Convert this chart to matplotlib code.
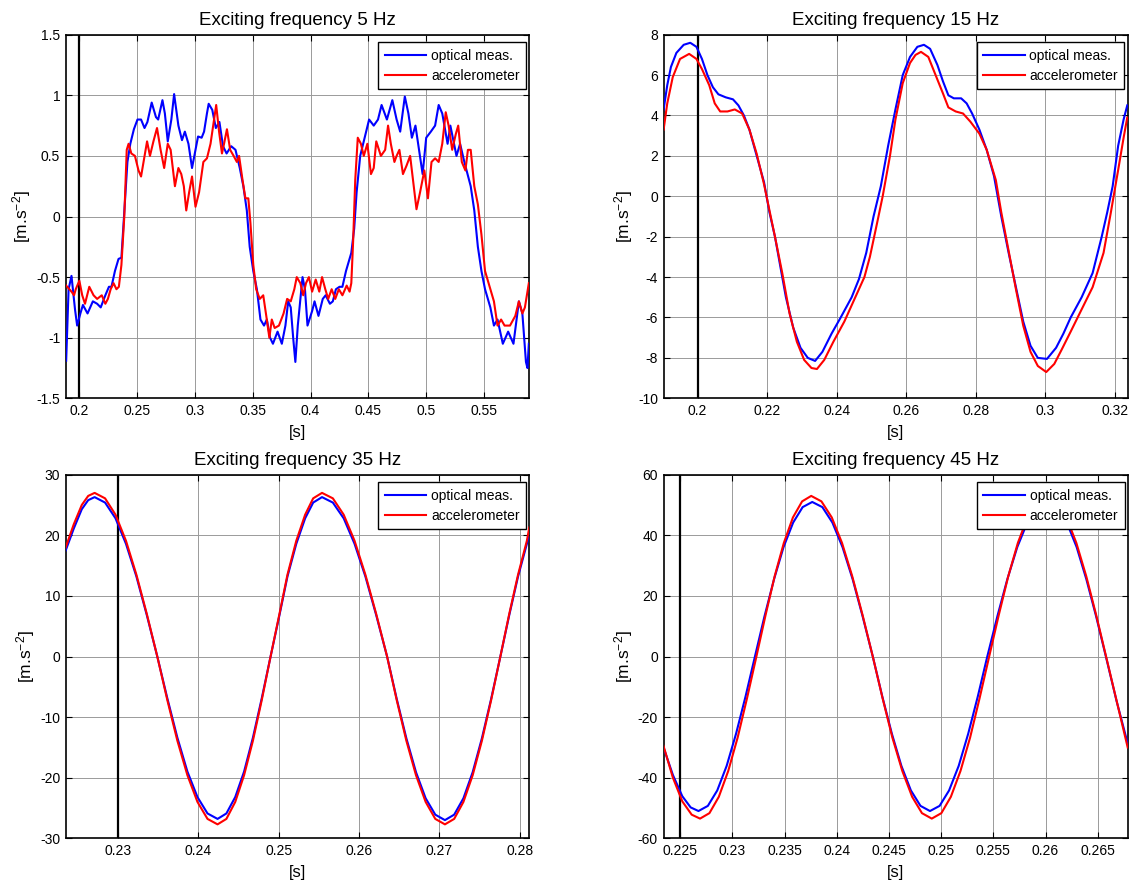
import numpy as np
import matplotlib
matplotlib.use("Agg")
import matplotlib.pyplot as plt
from matplotlib.ticker import FuncFormatter

plt.rcParams['font.family'] = ['Liberation Sans', 'DejaVu Sans']
plt.rcParams['mathtext.fontset'] = 'custom'
plt.rcParams['mathtext.rm'] = 'Liberation Sans'
plt.rcParams['mathtext.it'] = 'Liberation Sans:italic'

# ---------------- 5 Hz ----------------
t5_opt = [0.1886, 0.1907, 0.1932, 0.1963, 0.1981, 0.2009, 0.2031, 0.2071, 0.2117, 0.2154,
          0.2185, 0.2225, 0.2256, 0.2278, 0.2308, 0.2339, 0.2364, 0.2386, 0.2416, 0.2441,
          0.2472, 0.2503, 0.2534, 0.2564, 0.2589, 0.2626, 0.2663, 0.2682, 0.2719, 0.2740,
          0.2765, 0.2796, 0.2820, 0.2857, 0.2888, 0.2913, 0.2944, 0.2975, 0.3005, 0.3027,
          0.3058, 0.3079, 0.3104, 0.3119, 0.3150, 0.3181, 0.3212, 0.3243, 0.3274, 0.3314,
          0.3351, 0.3388, 0.3419, 0.3449, 0.3474, 0.3505, 0.3536, 0.3567, 0.3598, 0.3622,
          0.3650, 0.3675, 0.3715, 0.3752, 0.3783, 0.3807, 0.3829, 0.3850, 0.3869, 0.3890,
          0.3931, 0.3952, 0.3974, 0.4014, 0.4035, 0.4069, 0.4106, 0.4131, 0.4168, 0.4193,
          0.4220, 0.4251, 0.4276, 0.4307, 0.4353, 0.4378, 0.4399, 0.4430, 0.4461, 0.4507,
          0.4547, 0.4584, 0.4615, 0.4661, 0.4708, 0.4745, 0.4776, 0.4816, 0.4847, 0.4877,
          0.4908, 0.4939, 0.4970, 0.5001, 0.5041, 0.5078, 0.5109, 0.5140, 0.5186, 0.5210,
          0.5263, 0.5294, 0.5331, 0.5386, 0.5417, 0.5448, 0.5479, 0.5510, 0.5556, 0.5587,
          0.5618, 0.5664, 0.5710, 0.5756, 0.5803, 0.5833, 0.5864, 0.5877, 0.5889]
opt5 = [-1.19, -0.60, -0.49, -0.77, -0.90, -0.80, -0.73, -0.80, -0.70, -0.72,
        -0.75, -0.65, -0.58, -0.58, -0.45, -0.35, -0.34, 0.00, 0.45, 0.60,
        0.72, 0.80, 0.80, 0.73, 0.78, 0.94, 0.82, 0.80, 0.96, 0.85,
        0.62, 0.80, 1.01, 0.75, 0.63, 0.70, 0.60, 0.40, 0.55, 0.66,
        0.65, 0.70, 0.85, 0.93, 0.88, 0.73, 0.78, 0.58, 0.52, 0.58,
        0.55, 0.40, 0.25, 0.05, -0.25, -0.45, -0.60, -0.85, -0.90, -0.85,
        -1.00, -1.05, -0.95, -1.05, -0.90, -0.70, -0.75, -1.00, -1.20, -0.90,
        -0.50, -0.60, -0.90, -0.78, -0.70, -0.82, -0.68, -0.65, -0.72, -0.70,
        -0.60, -0.58, -0.58, -0.45, -0.30, -0.10, 0.20, 0.50, 0.62, 0.80,
        0.75, 0.80, 0.92, 0.80, 0.96, 0.80, 0.70, 0.99, 0.85, 0.65,
        0.75, 0.55, 0.35, 0.65, 0.70, 0.75, 0.92, 0.85, 0.60, 0.75,
        0.50, 0.60, 0.45, 0.25, 0.05, -0.25, -0.45, -0.60, -0.75, -0.90,
        -0.85, -1.05, -0.95, -1.05, -0.70, -0.80, -1.20, -1.25, -1.05]

t5_acc = [0.1886, 0.1932, 0.1954, 0.1969, 0.2000, 0.2025, 0.2049, 0.2086, 0.2123, 0.2154,
          0.2194, 0.2225, 0.2247, 0.2271, 0.2296, 0.2321, 0.2342, 0.2364, 0.2389, 0.2410,
          0.2426, 0.2450, 0.2481, 0.2512, 0.2534, 0.2564, 0.2586, 0.2611, 0.2641, 0.2672,
          0.2703, 0.2734, 0.2765, 0.2790, 0.2827, 0.2857, 0.2882, 0.2904, 0.2925, 0.2950,
          0.2975, 0.3005, 0.3036, 0.3073, 0.3104, 0.3135, 0.3166, 0.3184, 0.3209, 0.3234,
          0.3252, 0.3277, 0.3305, 0.3335, 0.3363, 0.3382, 0.3412, 0.3437, 0.3462, 0.3480,
          0.3505, 0.3530, 0.3561, 0.3591, 0.3622, 0.3644, 0.3665, 0.3690, 0.3727, 0.3767,
          0.3798, 0.3829, 0.3860, 0.3881, 0.3912, 0.3937, 0.3961, 0.3986, 0.4014, 0.4045,
          0.4076, 0.4100, 0.4128, 0.4153, 0.4183, 0.4214, 0.4245, 0.4276, 0.4313, 0.4338,
          0.4353, 0.4369, 0.4387, 0.4409, 0.4436, 0.4461, 0.4492, 0.4523, 0.4547, 0.4569,
          0.4609, 0.4646, 0.4671, 0.4695, 0.4726, 0.4745, 0.4769, 0.4800, 0.4831, 0.4862,
          0.4887, 0.4917, 0.4948, 0.4985, 0.5016, 0.5047, 0.5078, 0.5109, 0.5140, 0.5170,
          0.5195, 0.5226, 0.5257, 0.5278, 0.5309, 0.5340, 0.5362, 0.5386, 0.5417, 0.5448,
          0.5479, 0.5510, 0.5556, 0.5587, 0.5618, 0.5649, 0.5679, 0.5726, 0.5772, 0.5803,
          0.5833, 0.5855, 0.5889]
acc5 = [-0.57, -0.62, -0.65, -0.60, -0.53, -0.65, -0.72, -0.58, -0.65, -0.68,
        -0.65, -0.72, -0.68, -0.60, -0.55, -0.60, -0.58, -0.40, 0.00, 0.55,
        0.60, 0.52, 0.50, 0.38, 0.33, 0.50, 0.62, 0.50, 0.62, 0.73,
        0.55, 0.40, 0.60, 0.55, 0.25, 0.40, 0.35, 0.25, 0.05, 0.20,
        0.33, 0.08, 0.20, 0.45, 0.48, 0.60, 0.80, 0.92, 0.70, 0.52,
        0.60, 0.72, 0.55, 0.50, 0.45, 0.50, 0.30, 0.15, 0.15, -0.05,
        -0.40, -0.60, -0.68, -0.65, -0.85, -1.00, -0.85, -0.92, -0.90, -0.80,
        -0.68, -0.70, -0.60, -0.50, -0.55, -0.65, -0.55, -0.50, -0.62, -0.52,
        -0.62, -0.50, -0.60, -0.68, -0.60, -0.68, -0.60, -0.65, -0.57, -0.62,
        -0.55, -0.20, 0.30, 0.65, 0.60, 0.50, 0.60, 0.35, 0.40, 0.62,
        0.50, 0.55, 0.75, 0.60, 0.45, 0.50, 0.55, 0.35, 0.42, 0.50,
        0.30, 0.06, 0.20, 0.38, 0.15, 0.45, 0.48, 0.45, 0.60, 0.86,
        0.75, 0.55, 0.68, 0.75, 0.45, 0.38, 0.55, 0.55, 0.25, 0.10,
        -0.15, -0.45, -0.60, -0.70, -0.90, -0.85, -0.90, -0.90, -0.82, -0.70,
        -0.80, -0.75, -0.55]

# ---------------- 15 Hz ----------------
t15_opt = [0.19023, 0.19128, 0.19233, 0.19391, 0.19601, 0.19790, 0.19968, 0.20126, 0.20284, 0.20441,
           0.20599, 0.20809, 0.21019, 0.21176, 0.21334, 0.21492, 0.21702, 0.21912, 0.22069, 0.22227,
           0.22384, 0.22542, 0.22752, 0.22962, 0.23172, 0.23382, 0.23592, 0.23855, 0.24118, 0.24433,
           0.24643, 0.24853, 0.25063, 0.25273, 0.25483, 0.25693, 0.25903, 0.26113, 0.26324, 0.26513,
           0.26691, 0.26901, 0.27059, 0.27216, 0.27374, 0.27584, 0.27742, 0.27899, 0.28109, 0.28319,
           0.28529, 0.28739, 0.28950, 0.29160, 0.29370, 0.29580, 0.29790, 0.30053, 0.30315, 0.30525,
           0.30735, 0.31050, 0.31366, 0.31628, 0.31786, 0.31943, 0.32101, 0.32258, 0.32363]
opt15 = [4.3, 5.5, 6.4, 7.1, 7.5, 7.6, 7.4, 6.8, 6.0, 5.4,
         5.05, 4.9, 4.8, 4.5, 4.0, 3.3, 2.0, 0.7, -0.8, -2.0,
         -3.5, -5.0, -6.5, -7.5, -8.0, -8.15, -7.7, -6.8, -6.0, -5.0,
         -4.1, -2.8, -1.0, 0.5, 2.5, 4.3, 6.0, 6.9, 7.4, 7.5,
         7.3, 6.5, 5.7, 5.0, 4.85, 4.85, 4.6, 4.1, 3.3, 2.3,
         1.0, -1.0, -2.8, -4.5, -6.2, -7.4, -8.0, -8.05, -7.5, -6.8,
         -6.0, -5.0, -3.8, -2.0, -0.8, 0.5, 2.5, 3.8, 4.5]

t15_acc = [0.19023, 0.19128, 0.19286, 0.19496, 0.19758, 0.19968, 0.20126, 0.20336, 0.20494, 0.20651,
           0.20861, 0.21071, 0.21282, 0.21492, 0.21702, 0.21912, 0.22069, 0.22227, 0.22437, 0.22647,
           0.22857, 0.23067, 0.23277, 0.23435, 0.23645, 0.23908, 0.24223, 0.24538, 0.24800, 0.24958,
           0.25168, 0.25326, 0.25536, 0.25693, 0.25903, 0.26113, 0.26271, 0.26429, 0.26639, 0.26849,
           0.27059, 0.27216, 0.27426, 0.27637, 0.27847, 0.28109, 0.28319, 0.28582, 0.28739, 0.28950,
           0.29160, 0.29370, 0.29580, 0.29790, 0.30032, 0.30263, 0.30473, 0.30735, 0.31050, 0.31366,
           0.31681, 0.31891, 0.32101, 0.32258, 0.32363]
acc15 = [3.3, 4.6, 5.9, 6.8, 7.05, 6.8, 6.3, 5.5, 4.6, 4.2,
         4.2, 4.3, 4.1, 3.3, 2.1, 0.6, -0.7, -2.0, -3.8, -5.8,
         -7.2, -8.1, -8.5, -8.55, -8.1, -7.2, -6.2, -5.0, -4.0, -3.0,
         -1.3, 0.0, 2.0, 3.8, 5.6, 6.6, 7.0, 7.15, 6.9, 6.0,
         5.1, 4.4, 4.2, 4.1, 3.7, 3.1, 2.3, 0.8, -0.8, -2.7,
         -4.6, -6.4, -7.7, -8.4, -8.7, -8.3, -7.6, -6.7, -5.6, -4.5,
         -2.8, -0.8, 1.3, 2.9, 3.9]

# ---------------- 35 Hz ----------------
t35 = [0.2235, 0.2245, 0.2255, 0.2263, 0.2271,
       0.2284, 0.2297, 0.2310, 0.2323, 0.2336, 0.2349,
       0.23615, 0.2374, 0.23865, 0.2399, 0.24115, 0.2424,
       0.2435, 0.2446, 0.2457, 0.2468, 0.2479, 0.2490,
       0.2501, 0.2511, 0.2522, 0.2533, 0.2543, 0.2554,
       0.25675, 0.2581, 0.25945, 0.2608, 0.26215, 0.2635,
       0.2647, 0.2659, 0.2671, 0.2683, 0.2695, 0.2707,
       0.27185, 0.2730, 0.27415, 0.2753, 0.27645, 0.2776,
       0.2787, 0.2798, 0.2809, 0.2812]
opt35 = [17.5, 21.1, 24.3, 25.8, 26.3,
         25.4, 22.8, 18.6, 13.2, 6.8, 0.0,
         -6.9, -13.4, -19.0, -23.2, -25.9, -26.8,
         -25.9, -23.2, -19.0, -13.4, -6.9, 0.0,
         6.8, 13.2, 18.6, 22.8, 25.4, 26.3,
         25.4, 22.8, 18.6, 13.2, 6.8, 0.0,
         -7.0, -13.5, -19.1, -23.4, -26.1, -27.0,
         -26.1, -23.4, -19.1, -13.5, -7.0, 0.0,
         6.8, 13.2, 18.6, 20.3]
acc35 = [18.0, 21.8, 25.0, 26.5, 27.0,
         26.1, 23.4, 19.1, 13.5, 7.0, 0.0,
         -7.2, -13.9, -19.6, -24.0, -26.8, -27.7,
         -26.8, -24.0, -19.6, -13.9, -7.2, 0.0,
         7.0, 13.5, 19.1, 23.4, 26.1, 27.0,
         26.1, 23.4, 19.1, 13.5, 7.0, 0.0,
         -7.2, -13.9, -19.6, -24.0, -26.8, -27.7,
         -26.8, -24.0, -19.6, -13.9, -7.2, 0.0,
         7.0, 13.5, 19.1, 21.3]

# ---------------- 45 Hz ----------------
t45_opt = [0.2234, 0.2243, 0.2252, 0.2260, 0.22675,
           0.22765, 0.22855, 0.22945, 0.23035, 0.23126, 0.23216,
           0.23307, 0.23399, 0.23490, 0.23582, 0.23673, 0.23765,
           0.23862, 0.23958, 0.24055, 0.24152, 0.24248, 0.24345,
           0.24436, 0.24528, 0.24619, 0.24710, 0.24802, 0.24893,
           0.24985, 0.25076, 0.25168, 0.25259, 0.25351, 0.25442,
           0.25538, 0.25634, 0.25729, 0.25825, 0.25921, 0.26017,
           0.26111, 0.26204, 0.26298, 0.26391, 0.26485, 0.26578,
           0.26680, 0.26787]
opt45 = [-30.0, -39.1, -46.1, -49.8, -51.0,
         -49.3, -44.2, -36.1, -25.5, -13.2, 0.0,
         13.2, 25.5, 36.1, 44.2, 49.3, 51.0,
         49.3, 44.2, 36.1, 25.5, 13.2, 0.0,
         -13.2, -25.5, -36.1, -44.2, -49.3, -51.0,
         -49.3, -44.2, -36.1, -25.5, -13.2, 0.0,
         13.2, 25.5, 36.1, 44.2, 49.3, 51.0,
         49.3, 44.2, 36.1, 25.5, 13.2, 0.0,
         -14.6, -28.7]

t45_acc = [0.2234, 0.2243, 0.2252, 0.2261, 0.2269,
           0.2278, 0.2287, 0.2296, 0.2305, 0.2314, 0.2323,
           0.23318, 0.23405, 0.23493, 0.23580, 0.23668, 0.23755,
           0.23853, 0.23952, 0.24050, 0.24148, 0.24247, 0.24345,
           0.24439, 0.24533, 0.24628, 0.24722, 0.24816, 0.24910,
           0.25002, 0.25093, 0.25185, 0.25277, 0.25368, 0.25460,
           0.25552, 0.25643, 0.25735, 0.25827, 0.25918, 0.26010,
           0.26105, 0.26200, 0.26295, 0.26390, 0.26485, 0.26580,
           0.26680, 0.26787]
acc45 = [-29.5, -40.0, -47.8, -52.2, -53.5,
         -51.7, -46.3, -37.8, -26.8, -13.8, 0.0,
         13.7, 26.5, 37.5, 45.9, 51.2, 53.0,
         51.2, 45.9, 37.5, 26.5, 13.7, 0.0,
         -13.8, -26.8, -37.8, -46.3, -51.7, -53.5,
         -51.7, -46.3, -37.8, -26.8, -13.8, 0.0,
         13.7, 26.5, 37.5, 45.9, 51.2, 53.0,
         51.2, 45.9, 37.5, 26.5, 13.7, 0.0,
         -14.5, -30.0]

freqs = [5, 15, 35, 45]
xlims = [(0.1882, 0.5893), (0.1902, 0.3237), (0.2235, 0.2812), (0.2234, 0.2679)]
ylims = [(-1.5, 1.5), (-10, 8), (-30, 30), (-60, 60)]
xticks = [np.arange(0.20, 0.5501, 0.05), np.arange(0.20, 0.3201, 0.02),
          np.arange(0.23, 0.2801, 0.01), np.arange(0.225, 0.2651, 0.005)]
yticks = [np.arange(-1.5, 1.501, 0.5), np.arange(-10, 8.01, 2),
          np.arange(-30, 30.1, 10), np.arange(-60, 60.1, 20)]
marker_x = [0.20, 0.20, 0.23, 0.225]
series = [(t5_opt, opt5, t5_acc, acc5), (t15_opt, opt15, t15_acc, acc15),
          (t35, opt35, t35, acc35), (t45_opt, opt45, t45_acc, acc45)]

W, H = 1131, 883
fig = plt.figure(figsize=(W / 100, H / 100), dpi=100)
boxes = [(65.7, 34.7, 529.3, 398.3), (663.5, 34.7, 1127.5, 398.3),
         (65.7, 474.7, 529.3, 838.3), (663.5, 474.7, 1128.0, 838.3)]

fmt = FuncFormatter(lambda v, p: '%g' % round(v, 6))

for i in range(4):
    l, t, r, b = boxes[i]
    ax = fig.add_axes([l / W, 1 - b / H, (r - l) / W, (b - t) / H])
    to, yo, ta, ya = series[i]
    ax.grid(True, color='#9a9a9a', linestyle='-', linewidth=0.7)
    ax.set_axisbelow(True)
    ax.axvline(marker_x[i], color='black', linewidth=1.6, zorder=1.5)
    ax.plot(to, yo, color='#0000ff', linewidth=1.5, label='optical meas.', zorder=3)
    ax.plot(ta, ya, color='#ff0000', linewidth=1.5, label='accelerometer', zorder=3)
    ax.set_xlim(*xlims[i])
    ax.set_ylim(*ylims[i])
    ax.set_xticks(xticks[i])
    ax.set_yticks(yticks[i])
    ax.xaxis.set_major_formatter(fmt)
    ax.yaxis.set_major_formatter(fmt)
    ax.tick_params(direction='in', length=4, width=0.8, labelsize=10, pad=4,
                   top=True, right=True, colors='black')
    for s in ax.spines.values():
        s.set_linewidth(1.2)
        s.set_color('black')
    ax.set_title('Exciting frequency %d Hz' % freqs[i], fontsize=13.5, pad=7)
    ax.set_xlabel('[s]', fontsize=12, labelpad=5)
    ax.set_ylabel(r'[m.s$^{\mathregular{-2}}$]', fontsize=12.5, labelpad=2)
    leg = ax.legend(loc='upper right', bbox_to_anchor=(0.993, 0.979), borderaxespad=0,
                    fontsize=10, handlelength=3.0, handletextpad=0.35, labelspacing=0.45,
                    borderpad=0.45, fancybox=False, framealpha=1, edgecolor='black')
    leg.get_frame().set_linewidth(1.0)
    leg.set_zorder(10)

fig.savefig('out.png', dpi=100)
